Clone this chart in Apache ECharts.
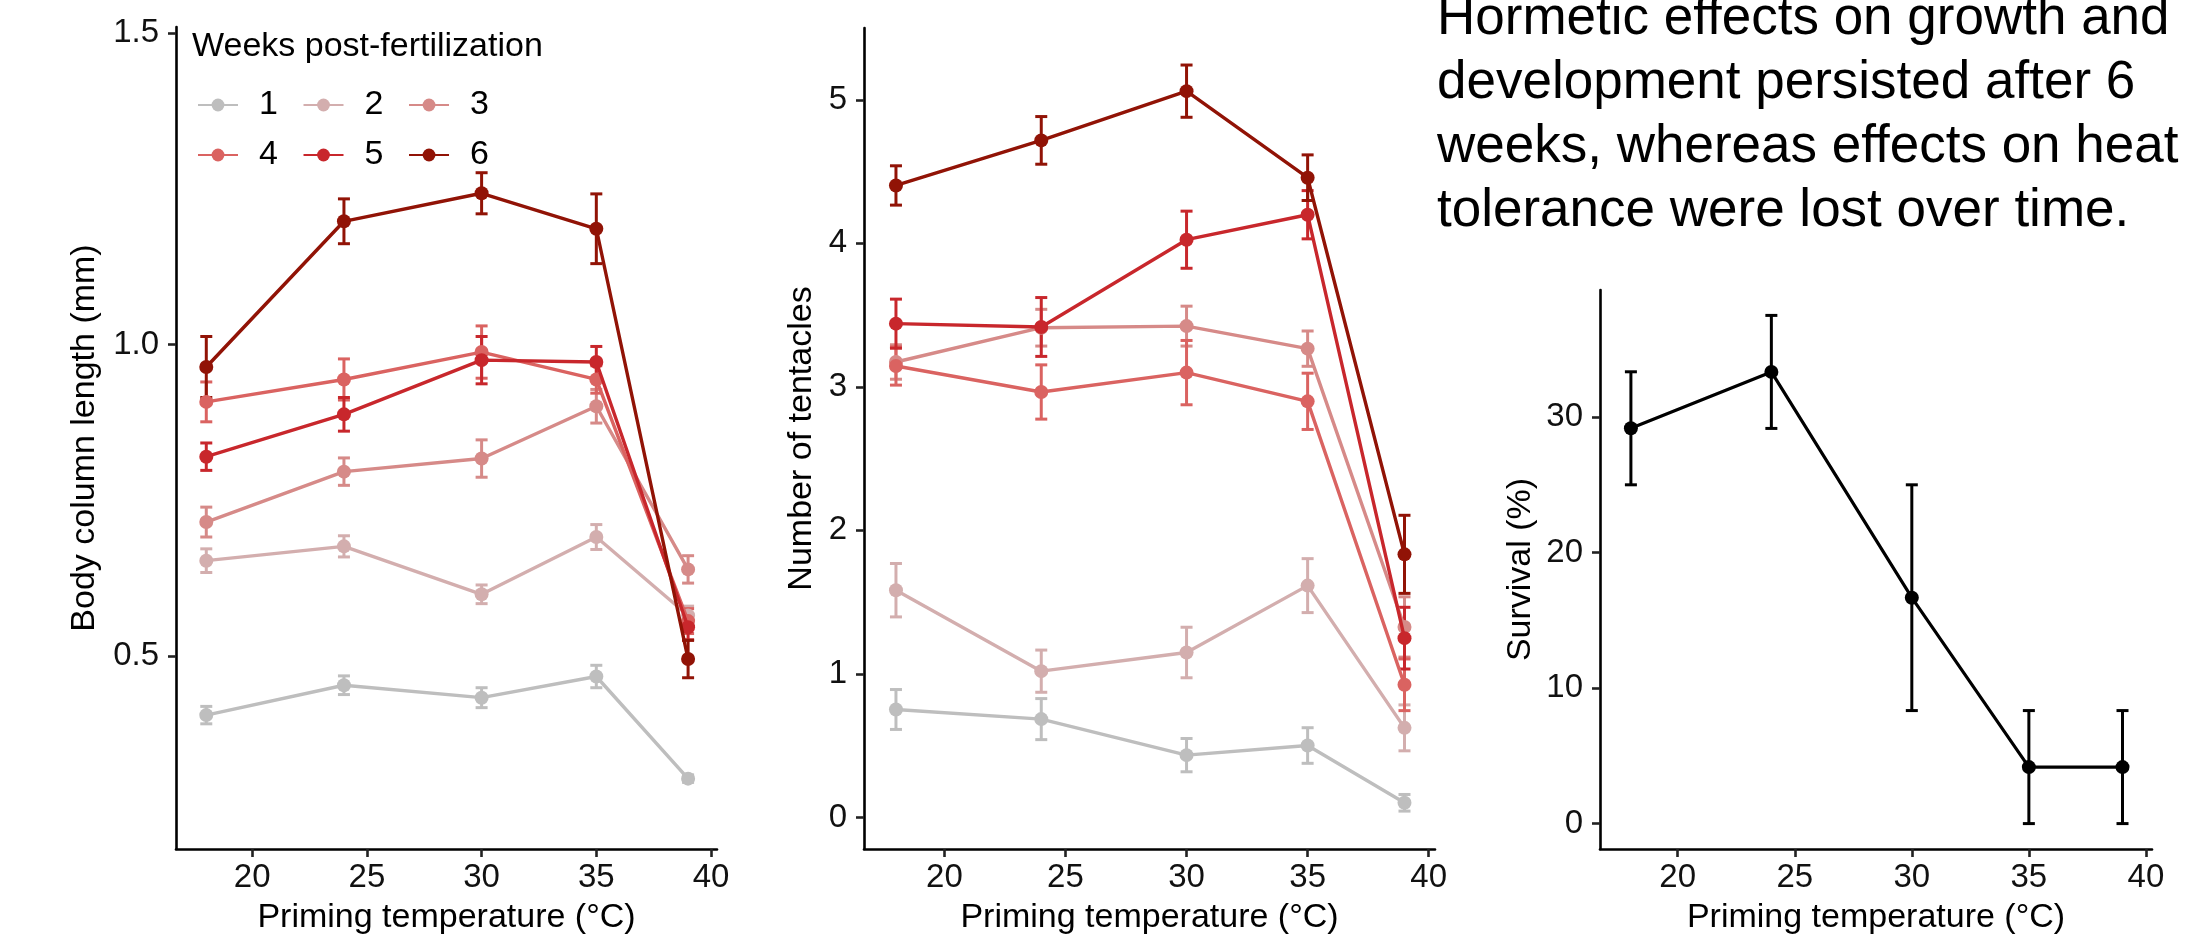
<!DOCTYPE html>
<html>
<head>
<meta charset="utf-8">
<style>
  html, body { margin: 0; padding: 0; background: #fff; }
  #chart { width: 2205px; height: 936px; }
</style>
<script src="https://cdn.jsdelivr.net/npm/echarts@6/dist/echarts.min.js"></script>
</head>
<body>
<div id="chart"></div>
<script>
// priming temperatures (°C) and weeks post-fertilization
const temps = [18, 24, 30, 35, 39];
const weeks = ['1', '2', '3', '4', '5', '6'];

// body column length (mm): mean and SE, one row per week
const lengthMean = [
  [0.405, 0.453, 0.433, 0.467, 0.303],
  [0.653, 0.676, 0.599, 0.691, 0.565],
  [0.715, 0.796, 0.817, 0.901, 0.639],
  [0.908, 0.944, 0.988, 0.944, 0.556],
  [0.820, 0.888, 0.975, 0.972, 0.546],
  [0.964, 1.198, 1.243, 1.186, 0.495]
];
const lengthSE = [
  [0.014, 0.015, 0.016, 0.018, 0.006],
  [0.019, 0.017, 0.015, 0.020, 0.015],
  [0.024, 0.022, 0.030, 0.027, 0.022],
  [0.032, 0.033, 0.042, 0.022, 0.020],
  [0.022, 0.027, 0.038, 0.025, 0.020],
  [0.049, 0.036, 0.033, 0.056, 0.030]
];

// number of tentacles: mean and SE, one row per week
const tentacleMean = [
  [0.752, 0.685, 0.434, 0.501, 0.102],
  [1.583, 1.019, 1.149, 1.615, 0.624],
  [3.173, 3.412, 3.423, 3.266, 1.327],
  [3.145, 2.964, 3.099, 2.899, 0.924],
  [3.440, 3.417, 4.025, 4.199, 1.249],
  [4.403, 4.717, 5.060, 4.457, 1.833]
];
const tentacleSE = [
  [0.139, 0.143, 0.116, 0.124, 0.058],
  [0.186, 0.147, 0.176, 0.188, 0.160],
  [0.120, 0.128, 0.139, 0.123, 0.210],
  [0.133, 0.189, 0.224, 0.196, 0.180],
  [0.171, 0.205, 0.199, 0.168, 0.215],
  [0.137, 0.166, 0.182, 0.159, 0.272]
];

// survival (%) after heat stress
const survivalMean = [29.17, 33.33, 16.67, 4.17, 4.17];
const survivalSE = [4.17, 4.17, 8.33, 4.17, 4.17];

// tick labels
const xTicks = [20, 25, 30, 35, 40];
const lengthTicks = [0.5, 1.0, 1.5];
const tentacleTicks = [0, 1, 2, 3, 4, 5];
const survivalTicks = [0, 10, 20, 30];

const weekColors = ['#bebebe', '#d3aeae', '#d68a88', '#da6361', '#c8272c', '#911306'];
const font = '"Liberation Sans", Arial, sans-serif';

const chart = echarts.init(document.getElementById('chart'));

function errRender(color) {
  return function (params, api) {
    const x = api.value(0);
    const lo = api.coord([x, api.value(1)]);
    const hi = api.coord([x, api.value(2)]);
    const w = 6;
    const st = { stroke: color, lineWidth: 3 };
    return {
      type: 'group',
      children: [
        { type: 'line', shape: { x1: hi[0], y1: hi[1], x2: lo[0], y2: lo[1] }, style: st },
        { type: 'line', shape: { x1: hi[0] - w, y1: hi[1], x2: hi[0] + w, y2: hi[1] }, style: st },
        { type: 'line', shape: { x1: lo[0] - w, y1: lo[1], x2: lo[0] + w, y2: lo[1] }, style: st }
      ]
    };
  };
}

function xAxisFor(gi) {
  return {
    type: 'value', gridIndex: gi, min: 16.68, max: 40.26,
    name: 'Priming temperature (°C)', nameLocation: 'middle', nameGap: 52,
    nameTextStyle: { fontSize: 34, color: '#000', fontFamily: font },
    axisLine: { onZero: false, lineStyle: { color: '#000', width: 2.6 } },
    axisTick: { length: 8, customValues: xTicks, lineStyle: { color: '#222', width: 2.6 } },
    axisLabel: { customValues: xTicks, fontSize: 33, color: '#111', fontFamily: font, margin: 12 },
    splitLine: { show: false }
  };
}

function yAxisFor(gi, min, max, ticks, name, gap, fmt) {
  return {
    type: 'value', gridIndex: gi, min: min, max: max,
    name: name, nameLocation: 'middle', nameGap: gap,
    nameTextStyle: { fontSize: 34, color: '#000', fontFamily: font },
    axisLine: { show: true, onZero: false, lineStyle: { color: '#000', width: 2.6 } },
    axisTick: { show: true, length: 8, customValues: ticks, lineStyle: { color: '#222', width: 2.6 } },
    axisLabel: { customValues: ticks, fontSize: 33, color: '#111', fontFamily: font, margin: 17, formatter: fmt },
    splitLine: { show: false }
  };
}

const series = [];
// lines first so the legend takes its icons from them
[[0, lengthMean], [1, tentacleMean]].forEach(([gi, means]) => {
  means.forEach((row, w) => {
    series.push({
      type: 'line', name: weeks[w], xAxisIndex: gi, yAxisIndex: gi,
      data: temps.map((t, i) => [t, row[i]]),
      color: weekColors[w], symbol: 'circle', symbolSize: 14,
      lineStyle: { width: 3.4 }, z: 3 + w * 0.01
    });
  });
});
[[0, lengthMean, lengthSE], [1, tentacleMean, tentacleSE]].forEach(([gi, means, ses]) => {
  means.forEach((row, w) => {
    series.push({
      type: 'custom', name: 'se' + gi + '-' + w, xAxisIndex: gi, yAxisIndex: gi,
      data: temps.map((t, i) => [t, row[i] - ses[w][i], row[i] + ses[w][i]]),
      encode: { x: 0, y: [1, 2] }, renderItem: errRender(weekColors[w]), z: 2
    });
  });
});
series.push({
  type: 'line', name: 'survival', xAxisIndex: 2, yAxisIndex: 2,
  data: temps.map((t, i) => [t, survivalMean[i]]),
  color: '#000', symbol: 'circle', symbolSize: 14, lineStyle: { width: 3.2 }, z: 3
});
series.push({
  type: 'custom', name: 'survival-se', xAxisIndex: 2, yAxisIndex: 2,
  data: temps.map((t, i) => [t, survivalMean[i] - survivalSE[i], survivalMean[i] + survivalSE[i]]),
  encode: { x: 0, y: [1, 2] }, renderItem: errRender('#000'), z: 2
});

chart.setOption({
  animation: false,
  backgroundColor: '#fff',
  textStyle: { fontFamily: font },
  title: [
    {
      text: 'Hormetic effects on growth and\ndevelopment persisted after 6\nweeks, whereas effects on heat\ntolerance were lost over time.',
      left: 1437, top: -13, padding: 0,
      textStyle: { fontSize: 53, lineHeight: 64, fontWeight: 'normal', color: '#000', fontFamily: font }
    },
    {
      text: 'Weeks post-fertilization', left: 192, top: 27, padding: 0,
      textStyle: { fontSize: 34, lineHeight: 40, fontWeight: 'normal', color: '#000', fontFamily: font }
    }
  ],
  legend: {
    data: weeks, left: 197, top: 88, width: 320, padding: 0,
    orient: 'horizontal', itemWidth: 40, itemHeight: 16, itemGap: 16,
    textStyle: { fontSize: 34, lineHeight: 26, color: '#000', fontFamily: font, padding: [0, 8.6, 0, 16] }
  },
  grid: [
    { left: 176, top: 27, width: 541, height: 822, outerBoundsMode: 'none' },
    { left: 864, top: 28, width: 571, height: 821, outerBoundsMode: 'none' },
    { left: 1600, top: 290, width: 552, height: 559, outerBoundsMode: 'none' }
  ],
  xAxis: [xAxisFor(0), xAxisFor(1), xAxisFor(2)],
  yAxis: [
    yAxisFor(0, 0.19, 1.51, lengthTicks, 'Body column length (mm)', 74, v => v.toFixed(1)),
    yAxisFor(1, -0.22, 5.5, tentacleTicks, 'Number of tentacles', 45, v => String(v)),
    yAxisFor(2, -1.875, 39.375, survivalTicks, 'Survival (%)', 62, v => String(v))
  ],
  series: series
});
</script>
</body>
</html>
